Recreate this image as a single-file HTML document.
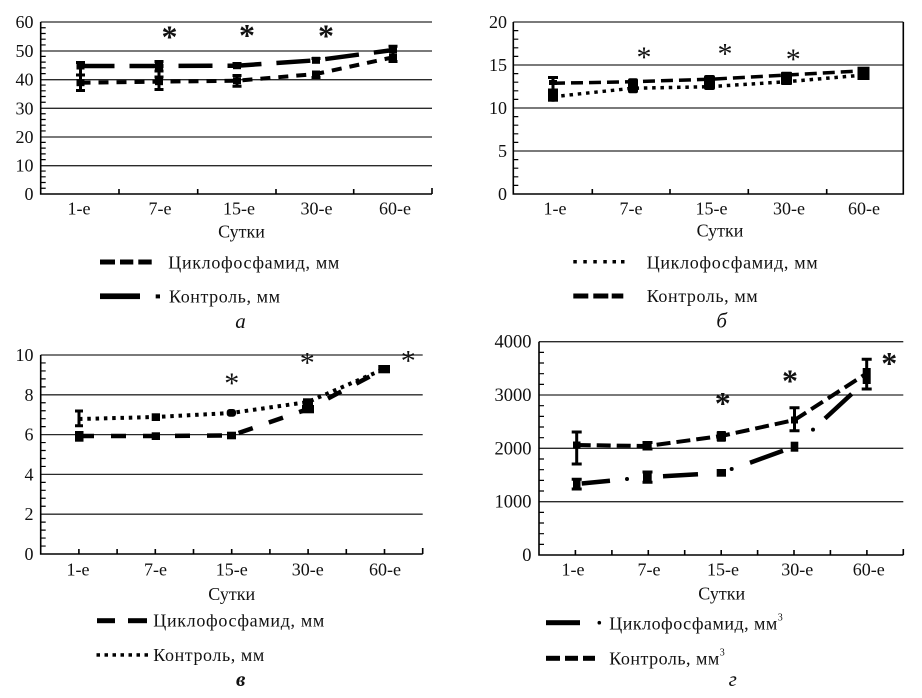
<!DOCTYPE html>
<html><head><meta charset="utf-8"><style>
html,body{margin:0;padding:0;background:#fff;}
svg{display:block;}
text{font-family:"Liberation Serif","Noto Serif CJK SC",serif;fill:#111;}
</style></head><body>
<svg width="922" height="698" viewBox="0 0 922 698" xmlns="http://www.w3.org/2000/svg">
<rect width="922" height="698" fill="#fff"/>

<!-- ================= PANEL A ================= -->
<g stroke="#2a2a2a" stroke-width="1.3" fill="none">
  <path d="M40.7 22H432M40.7 51H432M40.7 79.7H432M40.7 108.3H432M40.7 137H432M40.7 165.7H432"/>
</g>
<g stroke="#000" stroke-width="1.6" fill="none">
  <path d="M40.7 22V194H432"/>
  <path d="M119 194v-5M197.7 194v-5M276 194v-5M353.7 194v-5M432 194v-6"/>
  <path stroke-width="1.2" d="M40.7 188.27h5M40.7 182.53h5M40.7 176.8h5M40.7 171.07h5M40.7 159.6h5M40.7 153.87h5M40.7 148.13h5M40.7 142.4h5M40.7 130.93h5M40.7 125.2h5M40.7 119.47h5M40.7 113.73h5M40.7 102.27h5M40.7 96.53h5M40.7 90.8h5M40.7 85.07h5M40.7 73.6h5M40.7 67.87h5M40.7 62.13h5M40.7 56.4h5M40.7 44.93h5M40.7 39.2h5M40.7 33.47h5M40.7 27.73h5"/>
</g>
<g font-size="18" text-anchor="end">
  <text x="33.5" y="200">0</text><text x="33.5" y="171.7">10</text><text x="33.5" y="143">20</text>
  <text x="33.5" y="114.3">30</text><text x="33.5" y="85.7">40</text><text x="33.5" y="57">50</text><text x="33.5" y="28">60</text>
</g>
<g font-size="18" text-anchor="middle">
  <text x="79" y="214.3">1-е</text><text x="160" y="214.3">7-е</text><text x="239" y="214.3">15-е</text>
  <text x="316.5" y="214.3">30-е</text><text x="395" y="214.3">60-е</text>
  <text x="241.5" y="237.7">Сутки</text>
</g>
<g fill="none" stroke="#000" stroke-linejoin="round">
  <polyline stroke-width="4.5" stroke-dasharray="34 15" points="80.5,66 159,66 237,65.7 316,60.3 393,50"/>
  <polyline stroke-width="4" stroke-dasharray="10 8" points="80.5,82.7 159,81.7 237,80.7 316,74 393,57.3"/>
</g>
<g fill="#000">
  <rect x="76.5" y="62.5" width="8" height="7"/><rect x="155" y="62.5" width="8" height="7"/>
  <rect x="233" y="62.2" width="8" height="7"/><rect x="312" y="56.8" width="8" height="7"/><rect x="389" y="46.5" width="8" height="7"/>
  <rect x="76.5" y="79.2" width="8" height="7"/><rect x="155" y="78.2" width="8" height="7"/>
  <rect x="233" y="77.2" width="8" height="7"/><rect x="312" y="70.5" width="8" height="7"/><rect x="389" y="53.8" width="8" height="7"/>
</g>
<g stroke="#000" stroke-width="3" fill="none">
  <path d="M80.5 62V91M76 62.5h9M76 75h9M76 90.5h9"/>
  <path d="M159 61V90M154.5 61.5h9M154.5 71h9M154.5 77h9M154.5 89.5h9"/>
  <path d="M237 63V69M237 75V86.7M232.5 63.5h9M232.5 75.5h9M232.5 86.2h9"/>
  <path d="M316 58V63M316 70.7V78M311.5 58.5h9M311.5 77.5h9"/>
  <path d="M393 45.7V62M388.5 46.2h9M388.5 61.5h9"/>
</g>
<g font-size="32" font-weight="bold" text-anchor="middle">
  <text x="169.5" y="47.5">*</text><text x="247" y="46">*</text><text x="326" y="46.5">*</text>
</g>
<!-- legend a -->
<g fill="#000">
  <rect x="100" y="259.5" width="15" height="5"/><rect x="120" y="259.5" width="13.3" height="5"/><rect x="138.3" y="259.5" width="13.4" height="5"/>
  <rect x="100" y="293.4" width="40" height="5.7"/><rect x="155.7" y="294.4" width="4.3" height="4"/>
</g>
<g font-size="18">
  <text x="168.3" y="268.5" textLength="171" lengthAdjust="spacing">Циклофосфамид, мм</text>
  <text x="169" y="302.3" textLength="111" lengthAdjust="spacing">Контроль, мм</text>
</g>
<text x="240.5" y="328" font-size="21" font-style="italic" text-anchor="middle">а</text>

<!-- ================= PANEL B ================= -->
<g stroke="#2a2a2a" stroke-width="1.3" fill="none">
  <path d="M513.3 22H903.3M513.3 65H903.3M513.3 108H903.3M513.3 151H903.3"/>
</g>
<g stroke="#000" stroke-width="1.6" fill="none">
  <path d="M513.3 22V194H903.3V22"/>
  <path d="M592.3 194v-5M670 194v-5M748.3 194v-5M826.7 194v-5"/>
  <path stroke-width="1.2" d="M513.3 185.4h5M513.3 176.8h5M513.3 168.2h5M513.3 159.6h5M513.3 142.4h5M513.3 133.8h5M513.3 125.2h5M513.3 116.6h5M513.3 99.4h5M513.3 90.8h5M513.3 82.2h5M513.3 73.6h5M513.3 56.4h5M513.3 47.8h5M513.3 39.2h5M513.3 30.6h5"/>
</g>
<g font-size="18" text-anchor="end">
  <text x="507" y="200">0</text><text x="507" y="157">5</text><text x="507" y="114">10</text>
  <text x="507" y="71">15</text><text x="507" y="28">20</text>
</g>
<g font-size="18" text-anchor="middle">
  <text x="555" y="214.3">1-е</text><text x="631" y="214.3">7-е</text><text x="711.5" y="214.3">15-е</text>
  <text x="789" y="214.3">30-е</text><text x="864" y="214.3">60-е</text>
  <text x="720" y="236.7">Сутки</text>
</g>
<g fill="none" stroke="#000">
  <polyline stroke-width="3.5" stroke-dasharray="12 6" points="553,83.3 632,81.7 709,79.3 787,75 864,70.7"/>
  <polyline stroke-width="3.5" stroke-dasharray="3.5 4.8" points="553,96.7 632,88.3 709,86.7 787,81.7 864,75"/>
</g>
<g fill="#000">
  <rect x="548" y="76" width="10" height="3"/><rect x="551.5" y="76" width="3" height="25.7"/>
  <rect x="549" y="80" width="8" height="5"/><rect x="548" y="88.5" width="10" height="13.2"/>
  <rect x="628" y="78.3" width="10" height="15" rx="2"/>
  <rect x="704" y="75" width="11" height="15" rx="2"/>
  <rect x="781" y="71.7" width="11" height="13.3" rx="1"/>
  <rect x="857.5" y="66.7" width="12" height="13.3"/>
</g>
<g font-size="30" text-anchor="middle">
  <text x="644" y="67">*</text><text x="725" y="63.5">*</text><text x="793.3" y="69">*</text>
</g>
<!-- legend b -->
<g fill="#000">
  <rect x="573.3" y="260" width="3.5" height="3.5"/><rect x="583.3" y="260" width="3.5" height="3.5"/>
  <rect x="593.3" y="260" width="3.5" height="3.5"/><rect x="603.3" y="260" width="3.5" height="3.5"/>
  <rect x="612.5" y="260" width="3.5" height="3.5"/><rect x="621" y="260" width="3.5" height="3.5"/>
  <rect x="573.3" y="293.5" width="15" height="5"/><rect x="593.3" y="293.5" width="15" height="5"/><rect x="611.7" y="293.5" width="11.6" height="5"/>
</g>
<g font-size="18">
  <text x="646.7" y="268.5" textLength="171" lengthAdjust="spacing">Циклофосфамид, мм</text>
  <text x="646.7" y="302" textLength="111" lengthAdjust="spacing">Контроль, мм</text>
</g>
<text x="721.7" y="327.5" font-size="21" font-style="italic" text-anchor="middle">б</text>

<!-- ================= PANEL C ================= -->
<g stroke="#2a2a2a" stroke-width="1.3" fill="none">
  <path d="M40.7 355H422.7M40.7 394.8H422.7M40.7 434.6H422.7M40.7 474.4H422.7M40.7 514.2H422.7"/>
</g>
<g stroke="#000" stroke-width="1.6" fill="none">
  <path d="M40.7 355V554H422.7"/>
  <path d="M78.9 554v-5M117.1 554v-5M155.3 554v-5M193.5 554v-5M231.7 554v-5M269.9 554v-5M308.1 554v-5M346.3 554v-5M384.5 554v-5M422.7 554v-6"/>
  <path stroke-width="1.2" d="M40.7 546.04h5M40.7 538.08h5M40.7 530.12h5M40.7 522.16h5M40.7 506.24h5M40.7 498.28h5M40.7 490.32h5M40.7 482.36h5M40.7 466.44h5M40.7 458.48h5M40.7 450.52h5M40.7 442.56h5M40.7 426.64h5M40.7 418.68h5M40.7 410.72h5M40.7 402.76h5M40.7 386.84h5M40.7 378.88h5M40.7 370.92h5M40.7 362.96h5"/>
</g>
<g font-size="18" text-anchor="end">
  <text x="33.5" y="560">0</text><text x="33.5" y="520.2">2</text><text x="33.5" y="480.4">4</text>
  <text x="33.5" y="440.6">6</text><text x="33.5" y="400.8">8</text><text x="33.5" y="361">10</text>
</g>
<g font-size="18" text-anchor="middle">
  <text x="78" y="575.3">1-е</text><text x="155.5" y="575.3">7-е</text><text x="231.7" y="575.3">15-е</text>
  <text x="307.8" y="575.3">30-е</text><text x="385" y="575.3">60-е</text>
  <text x="231.7" y="600">Сутки</text>
</g>
<g fill="none" stroke="#000">
  <polyline stroke-width="4" stroke-dasharray="3.5 4.8" points="79,419 155.8,417 231.3,413 308,402 384,369"/>
  <polyline stroke-width="4.5" stroke-dasharray="15 17" points="79,436 155.8,436 231.3,435.5 308,409 384,369"/>
</g>
<g fill="#000">
  <rect x="75" y="431" width="8.5" height="10.7"/>
  <rect x="151.7" y="413.3" width="8.3" height="7.7"/><rect x="151.7" y="432.3" width="8.3" height="7.7"/>
  <rect x="226.7" y="409" width="9.3" height="7.7" rx="3"/><rect x="227" y="431.7" width="9" height="7.6"/>
  <rect x="303" y="398.3" width="10" height="7"/><rect x="302" y="405" width="12" height="8.3"/>
  <rect x="378.3" y="365" width="11.7" height="8.3"/>
</g>
<g stroke="#000" stroke-width="3" fill="none">
  <path d="M79 410V426.7M75 411h8M75 425.7h8"/>
</g>
<g font-size="30" text-anchor="middle">
  <text x="231.7" y="393">*</text><text x="307.3" y="372.5">*</text><text x="408.3" y="370.5">*</text>
</g>
<!-- legend c -->
<g fill="#000">
  <rect x="97" y="618.2" width="18" height="5"/><rect x="128" y="618.2" width="19" height="5"/>
  <rect x="96.5" y="653.2" width="3.5" height="3.5"/><rect x="104.5" y="653.2" width="3.5" height="3.5"/>
  <rect x="112.5" y="653.2" width="3.5" height="3.5"/><rect x="120.5" y="653.2" width="3.5" height="3.5"/>
  <rect x="128.5" y="653.2" width="3.5" height="3.5"/><rect x="136.5" y="653.2" width="3.5" height="3.5"/>
  <rect x="144.5" y="653.2" width="3.5" height="3.5"/>
</g>
<g font-size="18">
  <text x="153.3" y="626.7" textLength="171" lengthAdjust="spacing">Циклофосфамид, мм</text>
  <text x="153.3" y="661" textLength="111" lengthAdjust="spacing">Контроль, мм</text>
</g>
<text x="240.7" y="686" font-size="21" font-style="italic" font-weight="bold" text-anchor="middle">в</text>

<!-- ================= PANEL D ================= -->
<g stroke="#2a2a2a" stroke-width="1.3" fill="none">
  <path d="M539 341.7H903.3M539 395H903.3M539 448.3H903.3M539 501.7H903.3"/>
</g>
<g stroke="#000" stroke-width="1.6" fill="none">
  <path d="M539 341.7V555H903.3"/>
  <path d="M575.4 555v-5M611.9 555v-5M648.3 555v-5M684.7 555v-5M721.2 555v-5M757.6 555v-5M794 555v-5M830.4 555v-5M866.9 555v-5M903.3 555v-6"/>
  <path stroke-width="1.2" d="M539 544.34h5M539 533.67h5M539 523h5M539 512.34h5M539 491h5M539 480.35h5M539 469.68h5M539 459h5M539 437.7h5M539 427h5M539 416.4h5M539 405.7h5M539 384.4h5M539 373.7h5M539 363h5M539 352.4h5"/>
</g>
<g font-size="18.5" text-anchor="end">
  <text x="531.5" y="561">0</text><text x="531.5" y="507.7">1000</text><text x="531.5" y="454.3">2000</text>
  <text x="531.5" y="401">3000</text><text x="531.5" y="347.7">4000</text>
</g>
<g font-size="18" text-anchor="middle">
  <text x="573" y="575.3">1-е</text><text x="649" y="575.3">7-е</text><text x="723" y="575.3">15-е</text>
  <text x="797.3" y="575.3">30-е</text><text x="868.8" y="575.3">60-е</text>
  <text x="721.7" y="599.3">Сутки</text>
</g>
<g fill="none" stroke="#000">
  <polyline stroke-width="4" stroke-dasharray="14 6" points="576.7,445 647.5,446 721.3,436 794.5,420 866.7,373.3"/>
  <path stroke-width="4.5" d="M581.7 483.5L610 480.7M663 476.2L698 474.3M750 462.7L783 450.8M825 418.5L851.7 393.9"/>
</g>
<g fill="#000">
  <circle cx="627" cy="479" r="2"/><circle cx="731.7" cy="469" r="2"/><circle cx="813" cy="429.6" r="2"/>
  <rect x="573" y="441.5" width="7.5" height="7"/>
  <rect x="573" y="480.5" width="7.5" height="7"/>
  <rect x="643" y="441.7" width="8.7" height="8.3"/><rect x="643" y="471" width="8.7" height="12.3"/>
  <rect x="716.7" y="431" width="9.3" height="10.7" rx="1"/><rect x="716.7" y="469" width="9.3" height="7.7"/>
  <rect x="791" y="416.5" width="7" height="7"/>
  <rect x="790.7" y="441.7" width="7.6" height="10"/>
  <rect x="862.7" y="368" width="8" height="16"/>
</g>
<g stroke="#000" stroke-width="3" fill="none">
  <path d="M576.7 431V465M571.7 432h10M571.7 464h10"/>
  <path d="M576.7 478.3V490M571.7 479.3h10M571.7 489h10"/>
  <path d="M642.5 442.5h10M642.5 449h10M642.5 472h10M642.5 482.3h10"/>
  <path d="M794.5 406.7V431.7M789.5 407.7h10M789.5 430.7h10"/>
  <path d="M866.7 358.3V390M861.7 359.3h10M861.7 389h10"/>
</g>
<g font-size="32" font-weight="bold" text-anchor="middle">
  <text x="722.7" y="414">*</text><text x="790" y="391.5">*</text><text x="889.3" y="374">*</text>
</g>
<!-- legend d -->
<g fill="#000">
  <rect x="546" y="620.2" width="34" height="5"/><circle cx="599.3" cy="622.7" r="1.8"/>
  <rect x="546" y="655.8" width="14" height="5"/><rect x="565" y="655.8" width="13" height="5"/><rect x="583" y="655.8" width="12" height="5"/>
</g>
<g font-size="18">
  <text x="609.3" y="629.3"><tspan textLength="168" lengthAdjust="spacing">Циклофосфамид, мм</tspan><tspan font-size="10" dy="-9">3</tspan></text>
  <text x="609.3" y="664.3"><tspan textLength="110" lengthAdjust="spacing">Контроль, мм</tspan><tspan font-size="10" dy="-9">3</tspan></text>
</g>
<text x="732.7" y="686" font-size="21" font-style="italic" text-anchor="middle">г</text>
</svg>
</body></html>
